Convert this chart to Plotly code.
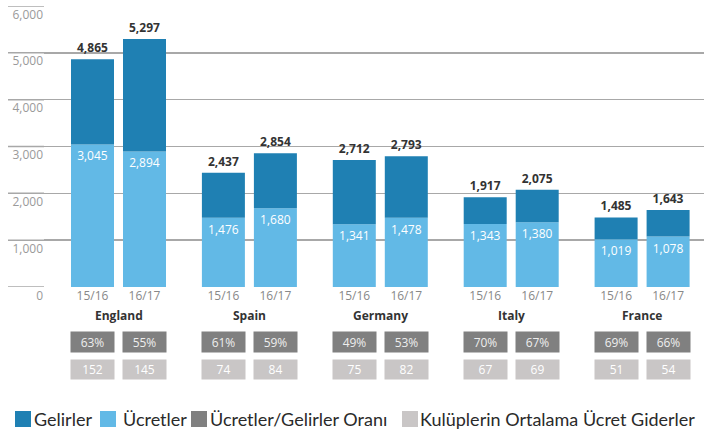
import plotly.graph_objects as go

countries = ["England", "Spain", "Germany", "Italy", "France"]
seasons = ["15/16", "16/17"]
revenue_1516 = [4865, 2437, 2712, 1917, 1485]
revenue_1617 = [5297, 2854, 2793, 2075, 1643]
wages_1516 = [3045, 1476, 1341, 1343, 1019]
wages_1617 = [2894, 1680, 1478, 1380, 1078]
ratio_1516 = [63, 61, 49, 70, 69]
ratio_1617 = [55, 59, 53, 67, 66]
avgwage_1516 = [152, 74, 75, 67, 51]
avgwage_1617 = [145, 84, 82, 69, 54]
y_ticks = [0, 1000, 2000, 3000, 4000, 5000, 6000]
legend_names = ["Gelirler", "Ücretler", "Ücretler/Gelirler Oranı", "Kulüplerin Ortalama Ücret Giderler"]

C_REV = "#1f80b3"
C_WAGE = "#62b9e6"
C_RATIO = "#808080"
C_AVG = "#c9c6c6"
FONT = "Open Sans"

# layout geometry (pixels)
W, H = 704, 436
L, R, T, B = 44, 0, 6, 149
plot_w = W - L - R
plot_h = H - T - B
grp_px = 130.9
first_center_px = 118.5
off = 26 / grp_px
bw = 43 / grp_px
x_lo = (L - first_center_px) / grp_px
x_hi = (W - R - first_center_px) / grp_px

fig = go.Figure()

series = [
    (0, revenue_1516, wages_1516, ratio_1516, avgwage_1516, -off),
    (1, revenue_1617, wages_1617, ratio_1617, avgwage_1617, off),
]

tickvals, ticktext = [], []
for si, rev, wag, rat, avg, o in series:
    xs = [i + o for i in range(len(countries))]
    tickvals += xs
    ticktext += [seasons[si]] * len(xs)
    fig.add_trace(go.Bar(
        x=xs, y=wag, width=bw, marker=dict(color=C_WAGE, line=dict(width=0)),
        text=[f"{v:,}" for v in wag], textposition="inside", insidetextanchor="end",
        textangle=0, constraintext="none",
        insidetextfont=dict(color="white", size=12, family=FONT),
        name=legend_names[1], showlegend=False, hoverinfo="skip",
    ))
    fig.add_trace(go.Bar(
        x=xs, y=[r - w for r, w in zip(rev, wag)], base=wag, width=bw,
        marker=dict(color=C_REV, line=dict(width=0)),
        text=[f"{v:,}" for v in rev], textposition="outside", textangle=0,
        constraintext="none",
        outsidetextfont=dict(color="#333333", size=12, family=FONT, weight="bold"),
        cliponaxis=False,
        name=legend_names[0], showlegend=False, hoverinfo="skip",
    ))
    for x, r_, a_ in zip(xs, rat, avg):
        fig.add_annotation(x=x, xref="x", y=0, yref="paper", yshift=-(342 - 287),
                           text=f"{r_}%", showarrow=False, width=43, height=20,
                           bgcolor=C_RATIO, borderpad=0, xanchor="center", yanchor="middle",
                           font=dict(color="#eeeeee", size=12, family=FONT))
        fig.add_annotation(x=x, xref="x", y=0, yref="paper", yshift=-(369.5 - 287),
                           text=f"{a_}", showarrow=False, width=43, height=19,
                           bgcolor=C_AVG, borderpad=0, xanchor="center", yanchor="middle",
                           font=dict(color="#ffffff", size=12, family=FONT))

for i, c in enumerate(countries):
    fig.add_annotation(x=i, xref="x", y=0, yref="paper", yshift=-(315 - 287),
                       text=f"<b>{c}</b>", showarrow=False, xanchor="center", yanchor="middle",
                       font=dict(color="#333333", size=12, family=FONT))

# gridline extension to the left edge
for v in y_ticks:
    fig.add_shape(type="line", xref="paper", yref="y", x0=(8 - L) / plot_w, x1=0,
                  y0=v, y1=v, line=dict(color="#a8a8a8", width=1.5), layer="below")

# custom legend
leg_items = [
    (15, 32, C_REV, legend_names[0]),
    (100, 121, C_WAGE, legend_names[1]),
    (191, 208, C_RATIO, legend_names[2]),
    (402, 418, C_AVG, legend_names[3]),
]
def px_x(p):
    return (p - L) / plot_w
def px_y(p):
    return (H - B - p) / plot_h
for sq, tx, col, name in leg_items:
    fig.add_shape(type="rect", xref="paper", yref="paper", x0=px_x(sq), x1=px_x(sq + 16),
                  y0=px_y(427), y1=px_y(411), fillcolor=col, line=dict(width=0))
    fig.add_annotation(x=px_x(tx), xref="paper", y=px_y(419), yref="paper", text=name,
                       showarrow=False, xanchor="left", yanchor="middle",
                       font=dict(color="#2a2a2a", size=18, family="Lato"))

fig.update_layout(
    width=W, height=H, margin=dict(l=L, r=R, t=T, b=B, autoexpand=False),
    paper_bgcolor="white", plot_bgcolor="white",
    barmode="overlay", showlegend=False,
    font=dict(family=FONT),
    xaxis=dict(range=[x_lo, x_hi], tickvals=tickvals, ticktext=ticktext, showgrid=False,
               zeroline=False, showline=False, ticks="", automargin=False,
               tickfont=dict(color="#888888", size=12, family=FONT), fixedrange=True),
    yaxis=dict(range=[0, 6000], tickvals=y_ticks, ticktext=[f"{v:,}" for v in y_ticks],
               showgrid=True, gridcolor="#a8a8a8", gridwidth=1.5, zeroline=False,
               showline=False, ticks="", ticklabelposition="outside bottom", automargin=False,
               tickfont=dict(color="#9a9a9a", size=12, family=FONT), fixedrange=True),
)

fig.write_html("out.html", config={"displayModeBar": False, "staticPlot": True},
               post_script="document.body.style.margin='0';document.body.style.overflow='hidden';")
